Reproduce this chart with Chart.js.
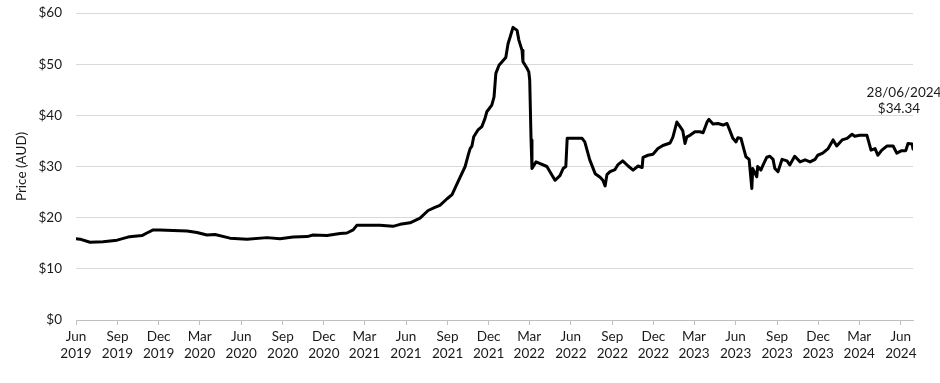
<!DOCTYPE html>
<html>
<head>
<meta charset="utf-8">
<script src="https://cdn.jsdelivr.net/npm/chart.js@4.4.1/dist/chart.umd.min.js"></script>
<style>
html,body{margin:0;padding:0;background:#fff;}
#wrap{width:940px;height:383px;}
</style>
</head>
<body>
<div id="wrap"><canvas id="c" width="940" height="383"></canvas></div>
<script>
// ---- Data ----
const dates = [
 '2019-06-01','2019-06-10','2019-07-02','2019-07-31','2019-08-31','2019-09-24','2019-10-03','2019-10-25','2019-11-05','2019-11-19',
 '2019-12-04','2020-01-02','2020-02-02','2020-02-24','2020-03-17','2020-04-04','2020-05-07','2020-06-14','2020-07-28','2020-08-26',
 '2020-09-24','2020-10-25','2020-11-07','2020-12-08','2021-01-06','2021-01-21','2021-02-04','2021-02-12','2021-03-07','2021-04-04',
 '2021-05-03','2021-05-19','2021-06-10','2021-07-02','2021-07-20','2021-08-04','2021-08-15','2021-08-31','2021-09-11','2021-09-24',
 '2021-10-10','2021-10-16','2021-10-21','2021-10-25','2021-10-29','2021-11-07','2021-11-16','2021-11-23','2021-11-27','2021-12-08',
 '2021-12-13','2021-12-17','2021-12-24','2022-01-08','2022-01-13','2022-01-19','2022-01-24','2022-02-02','2022-02-06','2022-02-13',
 '2022-02-15','2022-02-24','2022-02-28','2022-03-02','2022-03-05','2022-03-07','2022-03-16','2022-04-09','2022-04-27','2022-05-08',
 '2022-05-15','2022-05-21','2022-05-24','2022-06-06','2022-06-26','2022-07-02','2022-07-13','2022-07-25','2022-08-05','2022-08-11',
 '2022-08-16','2022-08-20','2022-08-27','2022-09-07','2022-09-13','2022-09-24','2022-10-06','2022-10-17','2022-10-28','2022-11-06',
 '2022-11-08','2022-11-19','2022-11-30','2022-12-11','2022-12-22','2023-01-07','2023-01-13','2023-01-22','2023-01-29','2023-02-04',
 '2023-02-09','2023-02-13','2023-02-20','2023-03-03','2023-03-14','2023-03-21','2023-03-30','2023-04-03','2023-04-12','2023-04-23',
 '2023-05-04','2023-05-13','2023-05-19','2023-05-26','2023-06-02','2023-06-06','2023-06-13','2023-06-19','2023-06-24','2023-07-01',
 '2023-07-07','2023-07-09','2023-07-18','2023-07-20','2023-07-27','2023-08-01','2023-08-09','2023-08-16','2023-08-23','2023-08-27',
 '2023-09-03','2023-09-12','2023-09-23','2023-09-29','2023-10-10','2023-10-22','2023-11-02','2023-11-13','2023-11-24','2023-11-30',
 '2023-12-11','2023-12-23','2024-01-03','2024-01-11','2024-01-23','2024-02-03','2024-02-14','2024-02-20','2024-03-02','2024-03-18',
 '2024-03-22','2024-03-27','2024-04-05','2024-04-11','2024-04-20','2024-05-01','2024-05-15','2024-05-23','2024-06-03','2024-06-12',
 '2024-06-17','2024-06-26','2024-06-28'
];
const prices = [
 15.9,15.8,15.2,15.3,15.6,16.2,16.3,16.5,17.0,17.6,
 17.6,17.5,17.4,17.1,16.6,16.7,16.0,15.8,16.1,15.9,
 16.2,16.3,16.6,16.5,16.9,17.0,17.6,18.5,18.5,18.5,
 18.3,18.7,19.0,19.9,21.4,22.0,22.4,23.7,24.5,27.0,
 30.0,32.0,33.5,34.0,35.8,37.1,37.8,39.4,40.7,42.0,
 43.6,48.2,49.8,51.3,54.0,55.7,57.2,56.6,54.7,52.7,
 50.5,49.2,48.5,46.9,35.2,29.6,30.9,30.0,27.3,28.2,
 29.6,30.0,35.5,35.5,35.5,34.8,31.3,28.6,27.9,27.3,
 26.2,28.4,29.0,29.4,30.3,31.1,30.1,29.3,30.1,29.8,
 31.8,32.2,32.4,33.5,34.1,34.6,35.7,38.7,37.8,37.0,
 34.5,35.8,36.1,36.8,36.8,36.6,38.7,39.2,38.3,38.4,
 38.1,38.4,37.1,35.5,34.8,35.6,35.5,33.5,31.9,31.4,
 25.7,29.6,28.0,30.0,29.3,30.3,31.8,32.0,31.4,29.6,
 29.0,31.4,31.1,30.3,32.0,30.9,31.3,30.9,31.4,32.2,
 32.6,33.5,35.2,34.0,35.2,35.5,36.3,35.9,36.1,36.1,
 34.8,33.2,33.5,32.2,33.2,34.0,34.0,32.6,33.1,33.1,
 34.5,34.4,33.4
];
const tickDates = [
 '2019-06-01','2019-09-01','2019-12-01','2020-03-01','2020-06-01','2020-09-01','2020-12-01',
 '2021-03-01','2021-06-01','2021-09-01','2021-12-01','2022-03-01','2022-06-01','2022-09-01',
 '2022-12-01','2023-03-01','2023-06-01','2023-09-01','2023-12-01','2024-03-01','2024-06-01'
];
const tickLabels = [
 ['Jun','2019'],['Sep','2019'],['Dec','2019'],['Mar','2020'],['Jun','2020'],['Sep','2020'],['Dec','2020'],
 ['Mar','2021'],['Jun','2021'],['Sep','2021'],['Dec','2021'],['Mar','2022'],['Jun','2022'],['Sep','2022'],
 ['Dec','2022'],['Mar','2023'],['Jun','2023'],['Sep','2023'],['Dec','2023'],['Mar','2024'],['Jun','2024']
];
const yTicks = [0,10,20,30,40,50,60];
const annotationDate = '2024-06-28';
const annotationValue = 34.34;
const yTitle = 'Price (AUD)';

// ---- Helpers ----
const DAY = 86400000;
const origin = Date.UTC(2019,5,1);
function dayOf(s){const p=s.split('-').map(Number);return (Date.UTC(p[0],p[1]-1,p[2])-origin)/DAY;}
function fmtDate(s){const p=s.split('-');return p[2]+'/'+p[1]+'/'+p[0];}
const points = dates.map((d,i)=>({x:dayOf(d),y:prices[i]}));
const tickValues = tickDates.map(dayOf);

const FONT = 'Lato';
const TXT = '#1a1a1a';

const lastLabel = {
  id:'lastLabel',
  afterDatasetsDraw(chart){
    const {ctx, scales:{x,y}} = chart;
    const px = x.getPixelForValue(dayOf(annotationDate));
    const py = y.getPixelForValue(annotationValue);
    ctx.save();
    ctx.font = '13.5px ' + FONT;
    ctx.fillStyle = TXT;
    ctx.textAlign = 'center';
    ctx.textBaseline = 'middle';
    ctx.fillText(fmtDate(annotationDate), px-9, py-52);
    ctx.fillText('$'+annotationValue.toFixed(2), px-14, py-36);
    ctx.restore();
  }
};

new Chart(document.getElementById('c'), {
  type:'line',
  data:{datasets:[{
    data:points, borderColor:'#000', borderWidth:3, pointRadius:0, tension:0,
    borderJoinStyle:'round', borderCapStyle:'round', fill:false
  }]},
  options:{
    responsive:false, animation:false, devicePixelRatio:1,
    layout:{padding:{left:0,right:27,top:13,bottom:0}},
    plugins:{legend:{display:false}, tooltip:{enabled:false}},
    scales:{
      x:{
        type:'linear', min:0, max:dayOf(annotationDate),
        afterBuildTicks:(s)=>{s.ticks = tickValues.map(v=>({value:v}));},
        afterFit:(s)=>{s.height = 63;},
        ticks:{autoSkip:false, maxRotation:0, minRotation:0, padding:3, color:TXT,
          font:{family:FONT, size:13.5, lineHeight:1.25},
          callback:(v,i)=>tickLabels[i]},
        grid:{drawOnChartArea:false, drawTicks:true, tickLength:5, color:'#bfbfbf'},
        border:{display:true, color:'#bfbfbf', width:1}
      },
      y:{
        min:0, max:60,
        afterBuildTicks:(s)=>{s.ticks = yTicks.map(v=>({value:v}));},
        afterFit:(s)=>{s.width = 76; s.paddingTop = 0; s.paddingBottom = 0;},
        ticks:{padding:14, color:TXT, font:{family:FONT, size:13.5}, callback:(v)=>'$'+v},
        grid:{color:'#d9d9d9', drawTicks:false, lineWidth:1},
        border:{display:false},
        title:{display:true, text:yTitle, color:TXT, font:{family:FONT, size:13.5, lineHeight:1.2}, padding:{top:14,bottom:0}}
      }
    }
  },
  plugins:[lastLabel]
});
</script>
</body>
</html>
